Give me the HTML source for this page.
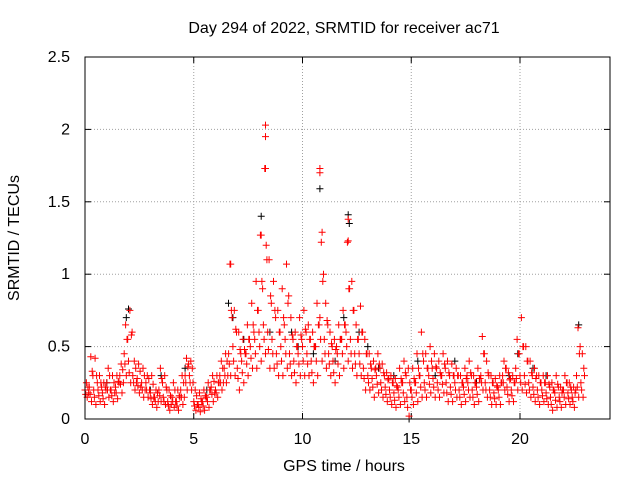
<!DOCTYPE html>
<html><head><meta charset="utf-8"><style>
body{margin:0;background:#fff;}
svg text{font-family:"Liberation Sans",sans-serif;font-size:16px;fill:#000;}
</style></head><body>
<svg id="chart" width="640" height="480" xmlns="http://www.w3.org/2000/svg">
<rect width="640" height="480" fill="#fff"/>
<text x="344" y="33" text-anchor="middle">Day 294 of 2022, SRMTID for receiver ac71</text>
<text x="344" y="471" text-anchor="middle">GPS time / hours</text>
<text transform="translate(19,238) rotate(-90)" text-anchor="middle">SRMTID / TECUs</text>
<g id="grid"></g><g id="ticks"></g><g id="marks"></g>
<rect x="85" y="57" width="525" height="362" fill="none" stroke="#000" stroke-width="1"/>
</svg>
<script>
const xTicks=[0,5,10,15,20];
const yTicks=[0,0.5,1,1.5,2,2.5];
const yTickLabels=["0","0.5","1","1.5","2","2.5"];
const tStart=0, tStep=0.2;
const redMid=[.2,.22,.2,.2,.18,.25,.2,.22,.3,.45,.4,.3,.28,.25,.25,.18,.15,.2,.15,.12,.15,.12,.2,.3,.3,.12,.1,.12,.15,.22,.2,.3,.35,.45,.5,.35,.4,.45,.5,.55,.6,.65,.6,.55,.45,.5,.55,.45,.4,.45,.5,.45,.4,.5,.7,.55,.45,.4,.45,.55,.6,.55,.45,.45,.35,.3,.28,.3,.25,.22,.2,.18,.2,.25,.15,.2,.25,.3,.25,.3,.28,.25,.3,.25,.22,.25,.2,.22,.25,.2,.22,.3,.25,.2,.18,.2,.3,.22,.2,.35,.3,.3,.25,.22,.2,.2,.18,.15,.18,.15,.2,.18,.15,.3,.25];
const redHigh=[.25,.43,.42,.3,.25,.35,.3,.3,.38,.65,.75,.4,.38,.35,.3,.3,.2,.35,.3,.2,.25,.2,.3,.42,.4,.2,.18,.2,.25,.3,.3,.4,.45,1.07,.75,.6,.55,.65,.8,.95,1.27,1.73,1.1,.95,.75,.9,1.07,.7,.6,.7,.75,.65,.6,.8,1.22,.8,.6,.55,.65,.75,1.22,.95,.65,.78,.55,.45,.4,.45,.38,.32,.3,.28,.35,.4,.35,.35,.45,.6,.45,.5,.45,.4,.45,.4,.38,.35,.3,.35,.4,.3,.35,.57,.4,.3,.28,.3,.4,.32,.3,.55,.7,.5,.4,.35,.3,.3,.3,.25,.3,.22,.3,.25,.22,.63,.45];
const redLow=[.15,.12,.1,.12,.1,.15,.12,.14,.18,.3,.25,.2,.18,.15,.15,.1,.08,.12,.1,.06,.08,.06,.1,.2,.2,.06,.05,.06,.08,.12,.15,.2,.25,.3,.3,.2,.25,.3,.35,.35,.4,.45,.35,.35,.3,.3,.35,.3,.25,.3,.3,.3,.25,.3,.4,.35,.3,.25,.3,.35,.4,.35,.3,.3,.2,.2,.15,.18,.15,.12,.1,.08,.1,.12,.02,.1,.12,.15,.15,.18,.15,.15,.18,.12,.12,.15,.1,.12,.15,.1,.12,.2,.15,.1,.1,.1,.2,.12,.12,.2,.2,.18,.15,.12,.1,.12,.1,.06,.08,.08,.1,.1,.08,.15,.15];
const redQ=[.18,.3,.25,.22,.2,.2,.18,.25,.25,.55,.6,.25,.22,.2,.2,.15,.12,.25,.2,.1,.12,.15,.15,.38,.25,.1,.12,.15,.2,.18,.25,.25,.3,.7,.6,.45,.45,.55,.6,.75,.9,1.1,.8,.7,.6,.65,.85,.55,.5,.55,.6,.55,.5,.65,1.0,.65,.5,.5,.55,.65,.9,.75,.55,.6,.45,.35,.35,.35,.3,.28,.25,.22,.25,.3,.2,.25,.3,.4,.35,.35,.35,.3,.35,.3,.3,.3,.25,.3,.3,.25,.28,.45,.3,.25,.22,.25,.35,.28,.25,.45,.5,.4,.3,.3,.25,.25,.22,.2,.22,.2,.25,.2,.2,.5,.3];
const redA=[.17,.17,.15,.16,.14,.2,.16,.18,.24,.38,.32,.25,.23,.2,.2,.14,.12,.16,.12,.09,.12,.09,.15,.25,.25,.09,.08,.09,.12,.17,.18,.25,.3,.38,.4,.28,.32,.38,.42,.45,.5,.55,.48,.45,.38,.4,.45,.38,.32,.38,.4,.38,.32,.4,.55,.45,.38,.32,.38,.45,.5,.45,.38,.38,.28,.25,.22,.24,.2,.17,.15,.13,.15,.18,.08,.15,.18,.22,.2,.24,.22,.2,.24,.18,.17,.2,.15,.17,.2,.15,.17,.25,.2,.15,.14,.15,.25,.17,.16,.28,.25,.24,.2,.17,.15,.16,.14,.1,.13,.12,.15,.14,.12,.22,.2];
const redB=[.22,.33,.3,.25,.22,.3,.25,.26,.34,.55,.58,.35,.33,.3,.28,.24,.18,.28,.22,.16,.2,.16,.25,.36,.35,.16,.14,.16,.2,.26,.25,.35,.4,.75,.62,.48,.48,.55,.65,.75,.95,1.2,.85,.75,.6,.7,.8,.58,.5,.58,.62,.55,.5,.65,.95,.68,.52,.48,.55,.65,.9,.75,.55,.6,.45,.38,.34,.38,.32,.27,.25,.23,.28,.32,.25,.28,.35,.45,.35,.4,.36,.32,.38,.32,.3,.3,.25,.28,.32,.25,.28,.45,.32,.25,.23,.25,.35,.27,.25,.45,.5,.4,.32,.28,.25,.25,.24,.2,.24,.18,.25,.22,.18,.45,.35];
const spikeT=[8.3,8.3,8.3,10.8,10.8,12.1,8.1,6.7,10.9,12.1];
const spikeV=[2.03,1.95,1.73,1.73,1.70,1.38,1.27,1.07,1.29,1.23];
const blackT=[8.1,10.8,12.1,12.15,2.0,6.6,13.0,17.0,9.5,11.5,4.6,15.3,22.7,7.3,14.9,3.5,19.9,21.2,1.0,1.9,6.8,8.5,9.8,10.5,11.9,12.6,13.5,14.2,16.1,18.0,19.5,20.6,5.6,3.0];
const blackV=[1.4,1.59,1.41,1.35,.76,.8,.5,.4,.6,.4,.35,.4,.65,.55,0.0,.3,.45,.3,.25,.7,.7,.6,.5,.45,.7,.6,.35,.3,.3,.25,.3,.35,.2,.2];

const X=t=>85+t*21.75, Y=v=>419-v*144.8;
const NS="http://www.w3.org/2000/svg";
const grid=document.getElementById('grid'),ticks=document.getElementById('ticks'),marks=document.getElementById('marks');
function line(p,x1,y1,x2,y2,st,dash){const l=document.createElementNS(NS,'line');l.setAttribute('x1',x1);l.setAttribute('y1',y1);l.setAttribute('x2',x2);l.setAttribute('y2',y2);l.setAttribute('stroke',st);if(dash)l.setAttribute('stroke-dasharray',dash);p.appendChild(l);return l;}
function txt(p,x,y,s,a){const t=document.createElementNS(NS,'text');t.setAttribute('x',x);t.setAttribute('y',y);t.setAttribute('text-anchor',a);t.textContent=s;p.appendChild(t);return t;}
xTicks.forEach(v=>{const x=X(v);
 const g=line(grid,x,57,x,419,'#a0a0a0','1,2');
 
 
 line(ticks,x,419,x,413,'#000');line(ticks,x,57,x,63,'#000');
 const t=txt(ticks,x,444,String(v),'middle');
 
 });
yTicks.forEach((v,i)=>{const y=Y(v);
 const g=line(grid,85,y,610,y,'#a0a0a0','1,2');
 
 
 line(ticks,85,y,91,y,'#000');line(ticks,610,y,604,y,'#000');
 const t=txt(ticks,70,y+5,yTickLabels[i],'end');
 
 });
let d={red:'',black:''};
function plus(s,t,v){const x=X(t).toFixed(1),y=Y(v).toFixed(1);d[s]+=`M${x-3.5} ${y}h7M${x} ${y-3.5}v7`;}
blackT.forEach((t,i)=>plus('black',t,blackV[i]));
[redMid,redA,redHigh,redLow,redB,redQ].forEach((arr,k)=>arr.forEach((v,i)=>plus('red',tStart+i*tStep+k*0.033,v)));
spikeT.forEach((t,i)=>plus('red',t,spikeV[i]));
const pb=document.createElementNS(NS,'path');pb.setAttribute('d',d.black);pb.setAttribute('stroke','#000');pb.setAttribute('fill','none');


marks.appendChild(pb);
const pr=document.createElementNS(NS,'path');pr.setAttribute('d',d.red);pr.setAttribute('stroke','#ff0000');pr.setAttribute('fill','none');


marks.appendChild(pr);
</script>
</body></html>
